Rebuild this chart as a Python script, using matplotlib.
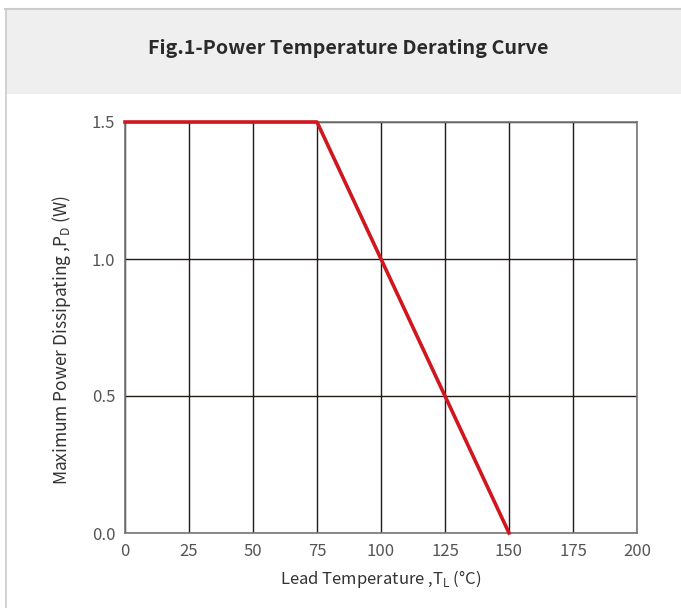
import matplotlib.pyplot as plt
from matplotlib.patches import Rectangle
from matplotlib.lines import Line2D

# derating curve data
temp = [0, 75, 150]
power = [1.5, 1.5, 0.0]
x_ticks = [0, 25, 50, 75, 100, 125, 150, 175, 200]
y_ticks = [0.0, 0.5, 1.0, 1.5]

plt.rcParams['font.family'] = ['Noto Sans CJK SC', 'DejaVu Sans']

fig = plt.figure(figsize=(6.81, 6.08), dpi=100)

# header band and frame
fig.patches.append(Rectangle((5 / 681, 1 - 94 / 608), 1, 85 / 608,
                             transform=fig.transFigure, facecolor='#efefef',
                             edgecolor='none', zorder=0))
fig.lines.append(Line2D([5 / 681, 1], [1 - 8.5 / 608] * 2, transform=fig.transFigure,
                        color='#cccccc', lw=1.5))
fig.lines.append(Line2D([5.5 / 681] * 2, [0, 1 - 8.5 / 608], transform=fig.transFigure,
                        color='#cccccc', lw=1.2))
fig.text(348 / 681, 1 - 49 / 608, 'Fig.1-Power Temperature Derating Curve',
         ha='center', va='center', fontsize=14.2, fontweight='bold', color='#2a2a2a')

ax = fig.add_axes([125 / 681, 1 - 533 / 608, 512 / 681, 411 / 608])
ax.plot(temp, power, color='#d0161e', lw=2.6, zorder=3, clip_on=False)

ax.set_xlim(0, 200)
ax.set_ylim(0, 1.5)
ax.set_xticks(x_ticks)
ax.set_yticks(y_ticks)
ax.set_yticklabels([f'{v:.1f}' for v in y_ticks])
ax.grid(True, color='#231815', lw=1.0)
ax.tick_params(length=0, labelsize=12, labelcolor='#555555', pad=7)
for s in ax.spines.values():
    s.set_color('#777777')
    s.set_linewidth(1.2)

ax.set_xlabel(r'Lead Temperature ,T$_\mathregular{L}$ (°C)', fontsize=12,
              color='#333333', labelpad=6)
ax.set_ylabel(r'Maximum Power Dissipating ,P$_\mathregular{D}$ (W)', fontsize=12.5,
              color='#333333')
ax.yaxis.set_label_coords(-0.102, 0.47)

fig.savefig('out.png', dpi=100)
